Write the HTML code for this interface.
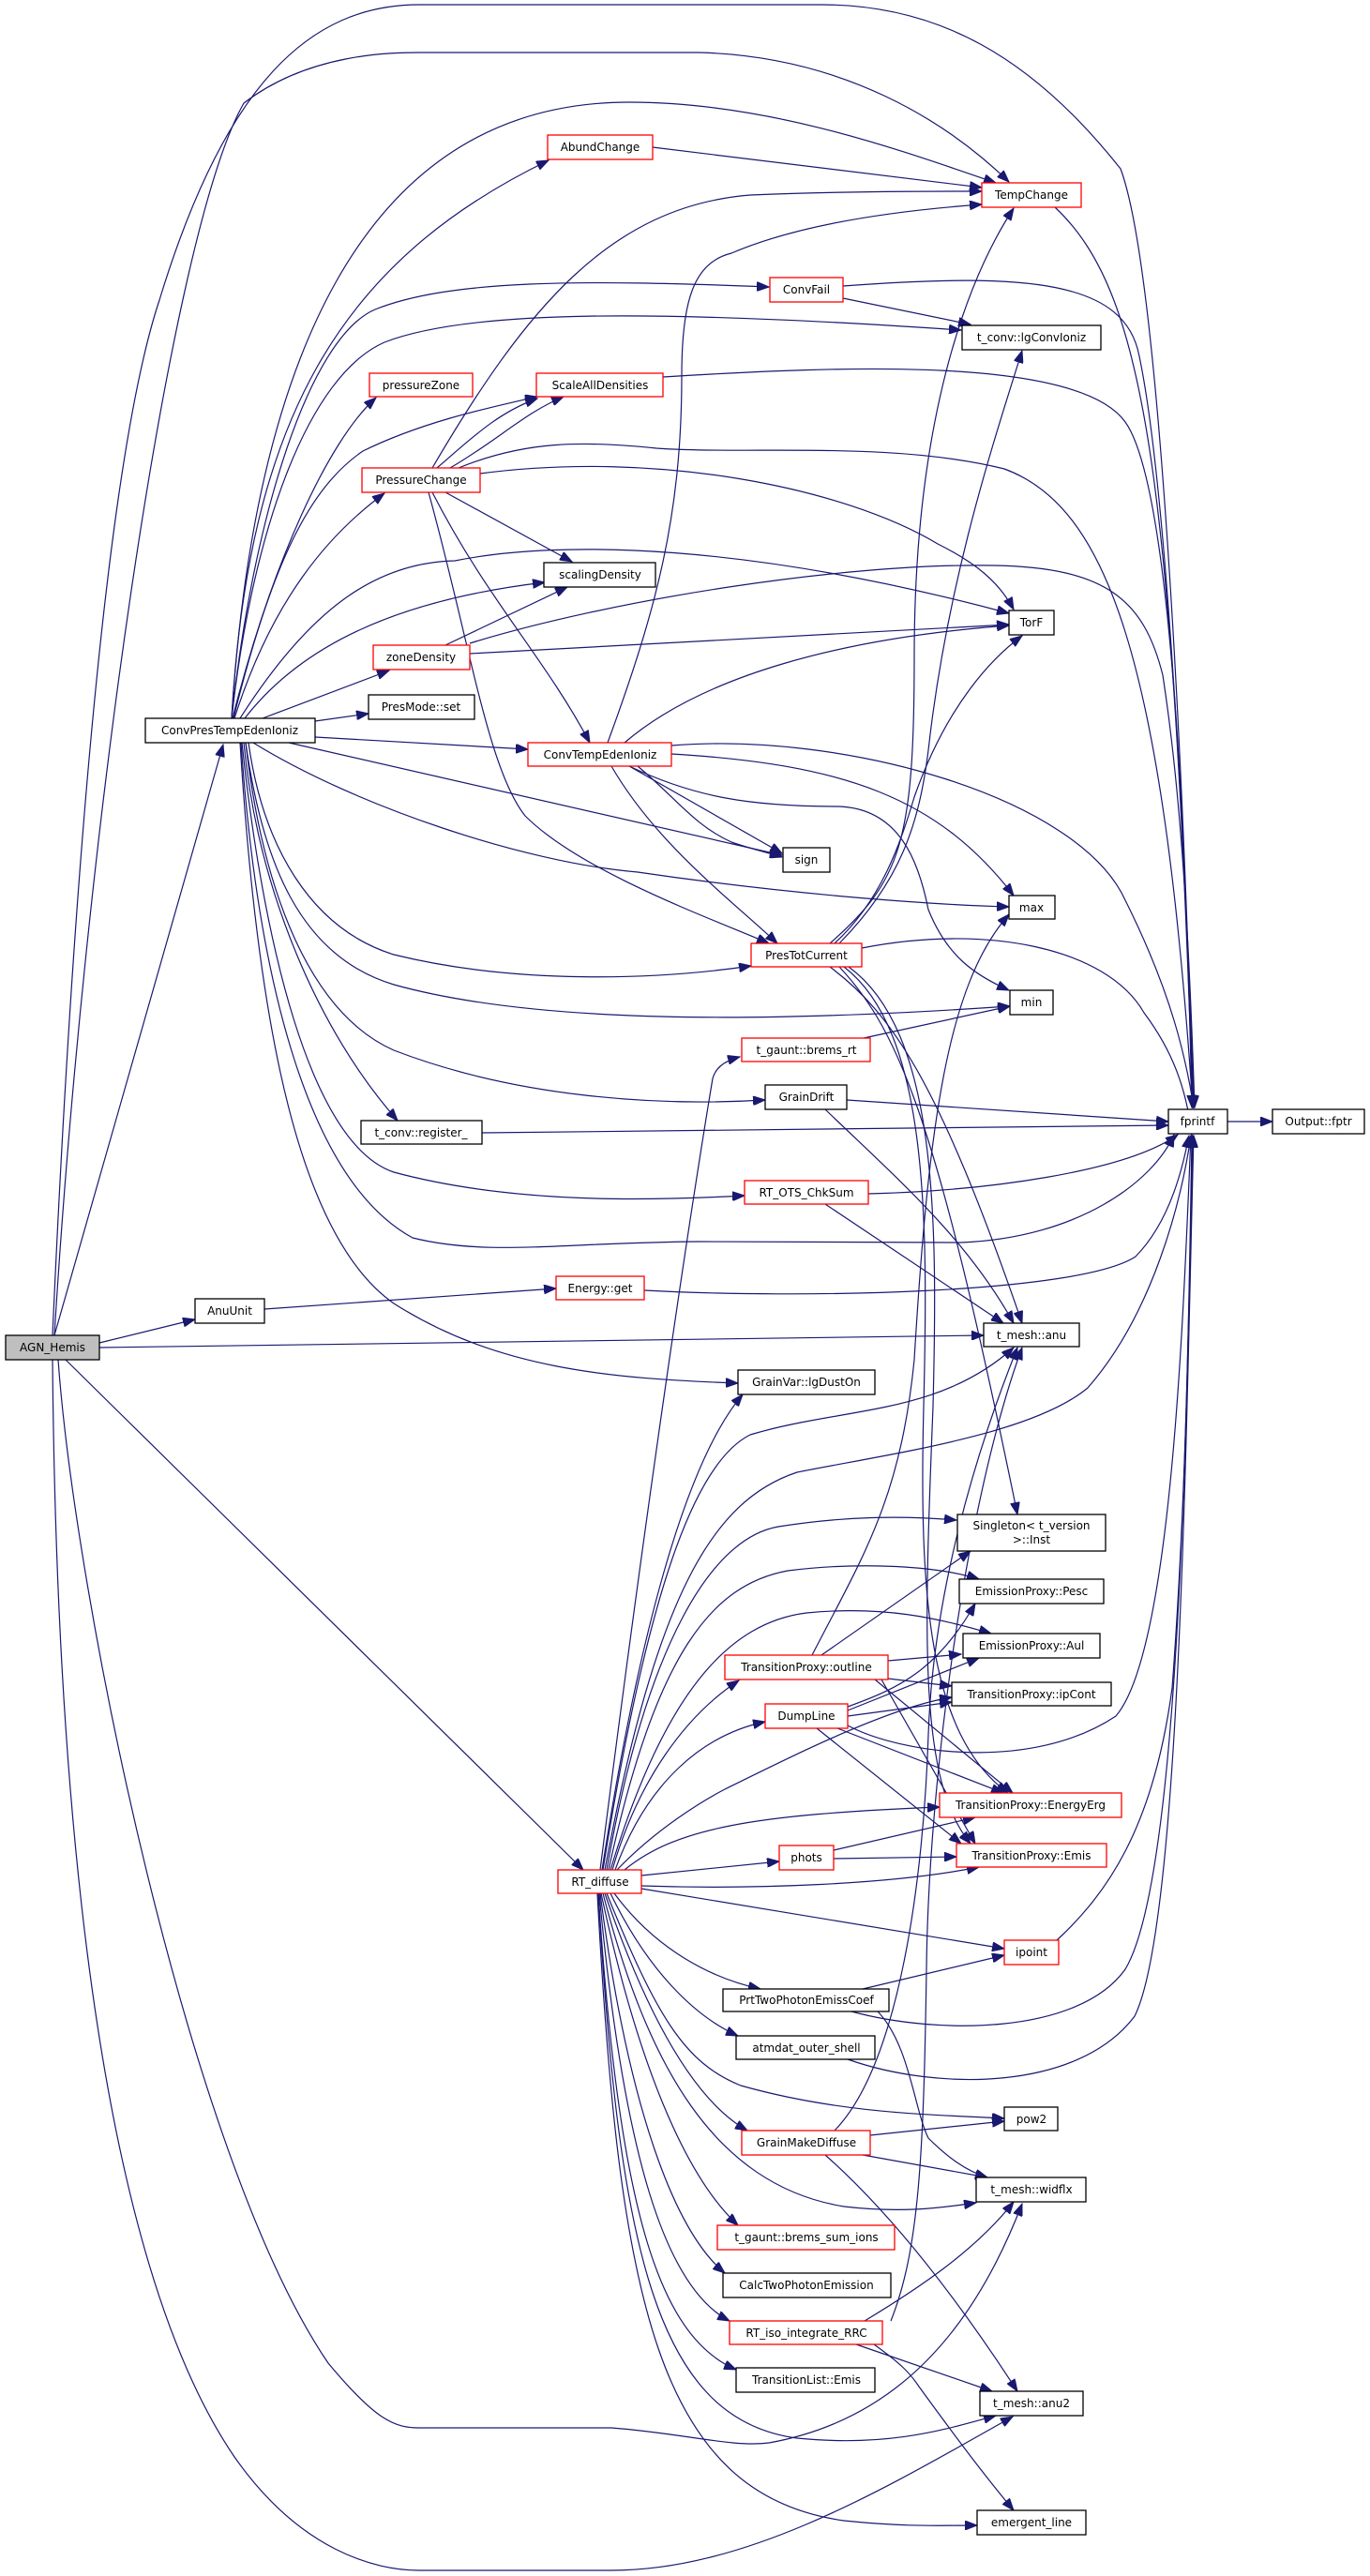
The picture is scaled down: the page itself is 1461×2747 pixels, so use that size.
<!DOCTYPE html>
<html><head><meta charset="utf-8"><style>
html,body{margin:0;padding:0;background:#fff;}
svg{display:block;}
text{font-family:"DejaVu Sans","Liberation Sans",sans-serif;font-size:12px;fill:#000;}
.e{fill:none;stroke:#191970;stroke-width:1.2;marker-end:url(#a);}
.n{fill:#fff;stroke:#000;stroke-width:1.3;}
.r{fill:#fff;stroke:#ff0000;stroke-width:1.3;}
.g{fill:#bfbfbf;stroke:#000;stroke-width:1.3;}
</style></head><body>
<svg width="1461" height="2747" viewBox="0 0 1461 2747" xmlns="http://www.w3.org/2000/svg">
<defs><marker id="a" markerUnits="userSpaceOnUse" markerWidth="14" markerHeight="10" refX="13" refY="5" orient="auto"><path d="M0,0 L13,5 L0,10 z" fill="#191970" stroke="#191970"/></marker></defs>
<g>
<path class="e" d="M58,1424 L238,794"/>
<path class="e" d="M56,1424 C75,1000 110,500 170,320 C240,90 330,5 447,5 L876,5 C1000,5 1100,60 1195,180 C1240,300 1265,900 1272,1181"/>
<path class="e" d="M58,1424 C90,900 180,250 260,110 C330,56 420,56 447,56 L745,56 C900,60 1010,130 1076,194"/>
<path class="e" d="M106,1432 L208,1407"/>
<path class="e" d="M106,1437 L1049,1424"/>
<path class="e" d="M70,1450 L622,1994"/>
<path class="e" d="M62,1450 C80,1700 200,2300 350,2520 C400,2580 420,2589 447,2589 L652,2589 C730,2595 780,2610 820,2605 C960,2580 1040,2480 1090,2350"/>
<path class="e" d="M56,1450 C60,1900 100,2400 250,2620 C320,2720 400,2741 447,2741 L652,2741 C800,2741 950,2650 1080,2577"/>
<path class="e" d="M282,1396 L593,1374"/>
<path class="e" d="M687,1376 C850,1385 1150,1380 1211,1340 C1250,1300 1262,1240 1268,1211"/>
<path class="e" d="M1309,1196 L1357,1196"/>
<path class="e" d="M247,766 C265,450 360,280 585,171"/>
<path class="e" d="M247,766 C270,400 380,109 671,109 C820,109 960,160 1062,195"/>
<path class="e" d="M247,766 C270,550 330,360 400,330 C480,298 620,298 820,306"/>
<path class="e" d="M247,766 C270,560 330,400 410,365 C500,330 700,330 1025,352"/>
<path class="e" d="M248,766 C290,600 350,470 401,424"/>
<path class="e" d="M249,766 C290,600 330,520 387,481 C450,450 520,435 573,423"/>
<path class="e" d="M250,766 C290,640 350,570 410,526"/>
<path class="e" d="M256,766 C330,650 400,600 485,598 C600,575 800,580 1076,654"/>
<path class="e" d="M261,766 C320,690 420,640 581,621"/>
<path class="e" d="M280,766 L415,715"/>
<path class="e" d="M336,769 L393,761"/>
<path class="e" d="M336,786 L563,799"/>
<path class="e" d="M308,792 L834,912"/>
<path class="e" d="M270,792 C380,860 560,920 680,930 C850,955 1000,965 1076,967"/>
<path class="e" d="M265,792 C280,900 330,990 420,1018 C550,1050 700,1045 801,1030"/>
<path class="e" d="M262,792 C280,920 320,1020 420,1050 C600,1100 900,1085 1077,1073"/>
<path class="e" d="M262,792 C280,950 330,1080 420,1120 C550,1170 700,1180 816,1173"/>
<path class="e" d="M260,792 C275,950 340,1100 424,1195"/>
<path class="e" d="M258,792 C280,1000 330,1220 420,1250 C550,1285 700,1280 794,1275"/>
<path class="e" d="M257,792 C275,1050 330,1260 440,1320 C520,1340 600,1325 745,1324 L1025,1325 C1150,1320 1230,1260 1252,1210"/>
<path class="e" d="M256,792 C275,1100 320,1320 420,1390 C530,1460 650,1470 787,1475"/>
<path class="e" d="M461,499 C560,330 650,220 800,208 C900,204 980,204 1047,204"/>
<path class="e" d="M480,499 C530,470 560,440 601,423"/>
<path class="e" d="M466,499 C500,470 530,440 573,425"/>
<path class="e" d="M489,499 C560,470 620,470 700,478 C800,485 950,470 1071,500 C1180,540 1240,700 1272,1181"/>
<path class="e" d="M512,505 C700,480 900,520 1000,580 C1040,600 1065,620 1081,650"/>
<path class="e" d="M475,525 L610,599"/>
<path class="e" d="M461,525 C520,640 580,700 629,792"/>
<path class="e" d="M457,525 C500,680 520,820 560,870 C620,930 760,980 820,1006"/>
<path class="e" d="M707,402 C900,390 1150,380 1200,450 C1250,520 1265,900 1271,1181"/>
<path class="e" d="M696,157 L1047,200"/>
<path class="e" d="M1125,221 C1220,310 1250,500 1272,1181"/>
<path class="e" d="M899,318 L1035,346"/>
<path class="e" d="M899,305 C1100,290 1200,300 1215,380 C1240,500 1260,800 1273,1181"/>
<path class="e" d="M475,688 L605,626"/>
<path class="e" d="M501,697 L1076,666"/>
<path class="e" d="M501,686 C650,640 900,600 1060,603 C1180,605 1220,640 1240,720 C1260,850 1268,1000 1274,1181"/>
<path class="e" d="M648,792 C700,650 727,550 727,400 C727,320 740,280 780,270 C850,240 950,225 1047,218"/>
<path class="e" d="M666,792 C750,720 900,680 1076,667"/>
<path class="e" d="M716,795 C900,780 1150,850 1200,960 C1250,1060 1265,1130 1273,1181"/>
<path class="e" d="M716,804 C900,815 1000,850 1081,955"/>
<path class="e" d="M671,817 C740,850 800,860 894,860 C960,862 980,920 990,970 C1010,1020 1040,1040 1076,1056"/>
<path class="e" d="M671,817 L834,910"/>
<path class="e" d="M680,817 C720,850 740,880 780,898 C800,905 815,908 834,914"/>
<path class="e" d="M652,817 C700,900 780,960 829,1006"/>
<path class="e" d="M885,1006 C960,940 975,900 975,700 C975,450 1030,300 1081,222"/>
<path class="e" d="M895,1006 C960,940 980,880 990,800 C1010,620 1060,470 1090,374"/>
<path class="e" d="M890,1006 C940,960 960,900 975,850 C1010,750 1060,700 1090,678"/>
<path class="e" d="M919,1011 C1050,985 1180,1010 1220,1080 C1250,1120 1265,1160 1271,1210"/>
<path class="e" d="M885,1031 C950,1080 1000,1150 1090,1411"/>
<path class="e" d="M895,1031 C960,1100 1000,1200 1085,1615"/>
<path class="e" d="M900,1031 C990,1100 990,1300 985,1500 C980,1700 990,1850 1075,1912"/>
<path class="e" d="M905,1031 C1000,1100 1000,1300 995,1500 C985,1750 980,1900 1035,1966"/>
<path class="e" d="M921,1107 L1077,1073"/>
<path class="e" d="M903,1173 L1246,1196"/>
<path class="e" d="M880,1183 C960,1260 1030,1320 1081,1411"/>
<path class="e" d="M514,1208 L1246,1200"/>
<path class="e" d="M926,1273 C1050,1270 1200,1250 1256,1210"/>
<path class="e" d="M880,1284 L1070,1411"/>
<path class="e" d="M640,1994 C690,1600 735,1300 760,1150 C763,1140 770,1132 789,1127"/>
<path class="e" d="M642,1994 C680,1750 730,1560 792,1487"/>
<path class="e" d="M643,1994 C690,1700 740,1560 800,1530 C900,1500 1000,1510 1081,1437"/>
<path class="e" d="M645,1994 C700,1700 760,1600 850,1570 C950,1550 1100,1530 1160,1480 C1230,1400 1260,1280 1270,1211"/>
<path class="e" d="M647,1994 C690,1750 760,1640 830,1628 C900,1617 960,1616 1020,1621"/>
<path class="e" d="M649,1994 C700,1760 760,1690 840,1675 C920,1665 1000,1670 1044,1684"/>
<path class="e" d="M651,1994 C710,1800 780,1730 860,1720 C940,1712 1000,1725 1057,1742"/>
<path class="e" d="M653,1994 C680,1900 730,1830 788,1792"/>
<path class="e" d="M656,1994 C690,1900 750,1850 816,1836"/>
<path class="e" d="M658,1994 C700,1950 750,1920 773,1908 C850,1870 950,1820 1015,1810"/>
<path class="e" d="M666,1994 C720,1950 800,1935 1002,1927"/>
<path class="e" d="M684,2000 L831,1985"/>
<path class="e" d="M684,2011 C800,2015 950,2010 1044,1991"/>
<path class="e" d="M684,2014 L1071,2078"/>
<path class="e" d="M655,2019 C700,2080 760,2110 811,2121"/>
<path class="e" d="M651,2019 C690,2100 740,2150 787,2171"/>
<path class="e" d="M647,2019 C700,2150 730,2200 790,2224 C900,2255 1000,2255 1071,2259"/>
<path class="e" d="M645,2019 C690,2150 740,2240 797,2272"/>
<path class="e" d="M643,2019 C690,2200 760,2330 900,2353 C960,2360 1000,2355 1041,2349"/>
<path class="e" d="M641,2019 C680,2200 730,2320 787,2373"/>
<path class="e" d="M640,2019 C670,2250 720,2380 773,2424"/>
<path class="e" d="M639,2019 C665,2300 710,2440 778,2475"/>
<path class="e" d="M638,2019 C660,2350 700,2490 785,2527"/>
<path class="e" d="M638,2019 C660,2400 700,2580 850,2600 C950,2610 1010,2590 1062,2576"/>
<path class="e" d="M637,2019 C660,2450 700,2660 900,2688 C970,2695 1000,2693 1042,2693"/>
<path class="e" d="M904,1820 C960,1800 1000,1780 1040,1710"/>
<path class="e" d="M904,1824 L1044,1768"/>
<path class="e" d="M904,1830 L1015,1815"/>
<path class="e" d="M893,1843 L1070,1912"/>
<path class="e" d="M871,1843 L1025,1966"/>
<path class="e" d="M904,1840 C960,1870 1100,1890 1190,1830 C1250,1760 1262,1400 1270,1211"/>
<path class="e" d="M866,1765 C920,1660 960,1600 975,1450 C990,1200 1010,1050 1076,975"/>
<path class="e" d="M876,1765 L1035,1654"/>
<path class="e" d="M947,1771 L1025,1764"/>
<path class="e" d="M947,1790 L1015,1798"/>
<path class="e" d="M933,1791 L1080,1912"/>
<path class="e" d="M940,1791 L1040,1966"/>
<path class="e" d="M889,1973 L1040,1938"/>
<path class="e" d="M889,1982 L1020,1980"/>
<path class="e" d="M920,2121 L1071,2085"/>
<path class="e" d="M908,2145 C1000,2170 1150,2170 1200,2100 C1260,2000 1265,1500 1272,1211"/>
<path class="e" d="M936,2145 C970,2180 975,2250 990,2280 C1010,2300 1030,2315 1053,2322"/>
<path class="e" d="M904,2196 C1000,2230 1150,2230 1210,2150 C1260,2050 1265,1500 1273,1211"/>
<path class="e" d="M1127,2069 C1180,2020 1230,1950 1250,1800 C1265,1600 1268,1400 1271,1211"/>
<path class="e" d="M928,2277 L1071,2262"/>
<path class="e" d="M920,2298 L1053,2322"/>
<path class="e" d="M880,2298 C950,2360 1020,2450 1085,2550"/>
<path class="e" d="M890,2272 C960,2200 985,2000 990,1850 C995,1700 1040,1550 1085,1437"/>
<path class="e" d="M922,2475 C980,2440 1040,2400 1081,2348"/>
<path class="e" d="M913,2500 L1058,2550"/>
<path class="e" d="M932,2500 C960,2520 970,2530 980,2545 C1020,2600 1050,2640 1081,2677"/>
<path class="e" d="M950,2475 C980,2400 985,2300 988,2100 C990,1900 1030,1600 1090,1437"/>
</g>
<g>
<rect class="g" x="6" y="1424" width="100" height="26"/><text x="56" y="1441" text-anchor="middle">AGN_Hemis</text>
<rect class="n" x="155" y="766" width="181" height="26"/><text x="245" y="783" text-anchor="middle">ConvPresTempEdenIoniz</text>
<rect class="r" x="584" y="144" width="112" height="26"/><text x="640" y="161" text-anchor="middle">AbundChange</text>
<rect class="r" x="1047" y="195" width="106" height="26"/><text x="1100" y="212" text-anchor="middle">TempChange</text>
<rect class="r" x="821" y="296" width="78" height="26"/><text x="860" y="313" text-anchor="middle">ConvFail</text>
<rect class="n" x="1026" y="347" width="148" height="26"/><text x="1100" y="364" text-anchor="middle">t_conv::lgConvIoniz</text>
<rect class="r" x="394" y="398" width="110" height="25"/><text x="449" y="415" text-anchor="middle">pressureZone</text>
<rect class="r" x="572" y="398" width="135" height="25"/><text x="640" y="415" text-anchor="middle">ScaleAllDensities</text>
<rect class="r" x="386" y="499" width="126" height="26"/><text x="449" y="516" text-anchor="middle">PressureChange</text>
<rect class="n" x="580" y="600" width="119" height="26"/><text x="640" y="617" text-anchor="middle">scalingDensity</text>
<rect class="n" x="1076" y="651" width="48" height="26"/><text x="1100" y="668" text-anchor="middle">TorF</text>
<rect class="r" x="398" y="688" width="103" height="26"/><text x="449" y="705" text-anchor="middle">zoneDensity</text>
<rect class="n" x="393" y="741" width="113" height="26"/><text x="449" y="758" text-anchor="middle">PresMode::set</text>
<rect class="r" x="563" y="792" width="153" height="25"/><text x="640" y="809" text-anchor="middle">ConvTempEdenIoniz</text>
<rect class="n" x="835" y="904" width="50" height="26"/><text x="860" y="921" text-anchor="middle">sign</text>
<rect class="n" x="1076" y="955" width="49" height="25"/><text x="1100" y="972" text-anchor="middle">max</text>
<rect class="r" x="801" y="1006" width="118" height="25"/><text x="860" y="1023" text-anchor="middle">PresTotCurrent</text>
<rect class="n" x="1077" y="1056" width="46" height="26"/><text x="1100" y="1073" text-anchor="middle">min</text>
<rect class="r" x="791" y="1107" width="137" height="25"/><text x="860" y="1124" text-anchor="middle">t_gaunt::brems_rt</text>
<rect class="n" x="816" y="1157" width="87" height="26"/><text x="860" y="1174" text-anchor="middle">GrainDrift</text>
<rect class="n" x="1246" y="1183" width="63" height="26"/><text x="1277" y="1200" text-anchor="middle">fprintf</text>
<rect class="n" x="1357" y="1183" width="98" height="26"/><text x="1406" y="1200" text-anchor="middle">Output::fptr</text>
<rect class="n" x="385" y="1195" width="129" height="25"/><text x="449" y="1212" text-anchor="middle">t_conv::register_</text>
<rect class="r" x="794" y="1259" width="132" height="25"/><text x="860" y="1276" text-anchor="middle">RT_OTS_ChkSum</text>
<rect class="r" x="593" y="1361" width="94" height="25"/><text x="640" y="1378" text-anchor="middle">Energy::get</text>
<rect class="n" x="208" y="1385" width="74" height="26"/><text x="245" y="1402" text-anchor="middle">AnuUnit</text>
<rect class="n" x="1049" y="1411" width="102" height="25"/><text x="1100" y="1428" text-anchor="middle">t_mesh::anu</text>
<rect class="n" x="787" y="1461" width="146" height="26"/><text x="860" y="1478" text-anchor="middle">GrainVar::lgDustOn</text>
<rect class="n" x="1021" y="1615" width="158" height="39"/><text x="1100" y="1631" text-anchor="middle">Singleton&lt; t_version</text><text x="1100" y="1646" text-anchor="middle">&gt;::Inst</text>
<rect class="n" x="1023" y="1684" width="154" height="26"/><text x="1100" y="1701" text-anchor="middle">EmissionProxy::Pesc</text>
<rect class="n" x="1027" y="1742" width="146" height="26"/><text x="1100" y="1759" text-anchor="middle">EmissionProxy::Aul</text>
<rect class="r" x="773" y="1765" width="174" height="26"/><text x="860" y="1782" text-anchor="middle">TransitionProxy::outline</text>
<rect class="n" x="1015" y="1794" width="170" height="25"/><text x="1100" y="1811" text-anchor="middle">TransitionProxy::ipCont</text>
<rect class="r" x="816" y="1817" width="88" height="26"/><text x="860" y="1834" text-anchor="middle">DumpLine</text>
<rect class="r" x="1002" y="1912" width="194" height="26"/><text x="1099" y="1929" text-anchor="middle">TransitionProxy::EnergyErg</text>
<rect class="r" x="831" y="1968" width="58" height="26"/><text x="860" y="1985" text-anchor="middle">phots</text>
<rect class="r" x="1020" y="1966" width="160" height="25"/><text x="1100" y="1983" text-anchor="middle">TransitionProxy::Emis</text>
<rect class="r" x="595" y="1994" width="89" height="25"/><text x="640" y="2011" text-anchor="middle">RT_diffuse</text>
<rect class="r" x="1071" y="2069" width="58" height="26"/><text x="1100" y="2086" text-anchor="middle">ipoint</text>
<rect class="n" x="771" y="2121" width="177" height="24"/><text x="860" y="2137" text-anchor="middle">PrtTwoPhotonEmissCoef</text>
<rect class="n" x="785" y="2171" width="148" height="25"/><text x="860" y="2188" text-anchor="middle">atmdat_outer_shell</text>
<rect class="n" x="1071" y="2247" width="57" height="25"/><text x="1100" y="2264" text-anchor="middle">pow2</text>
<rect class="r" x="791" y="2272" width="137" height="26"/><text x="860" y="2289" text-anchor="middle">GrainMakeDiffuse</text>
<rect class="n" x="1041" y="2322" width="117" height="26"/><text x="1100" y="2339" text-anchor="middle">t_mesh::widflx</text>
<rect class="r" x="765" y="2373" width="189" height="26"/><text x="860" y="2390" text-anchor="middle">t_gaunt::brems_sum_ions</text>
<rect class="n" x="771" y="2424" width="179" height="26"/><text x="860" y="2441" text-anchor="middle">CalcTwoPhotonEmission</text>
<rect class="r" x="778" y="2475" width="163" height="25"/><text x="860" y="2492" text-anchor="middle">RT_iso_integrate_RRC</text>
<rect class="n" x="785" y="2525" width="148" height="26"/><text x="860" y="2542" text-anchor="middle">TransitionList::Emis</text>
<rect class="n" x="1045" y="2550" width="110" height="26"/><text x="1100" y="2567" text-anchor="middle">t_mesh::anu2</text>
<rect class="n" x="1042" y="2677" width="116" height="26"/><text x="1100" y="2694" text-anchor="middle">emergent_line</text>
</g>
</svg>
</body></html>
